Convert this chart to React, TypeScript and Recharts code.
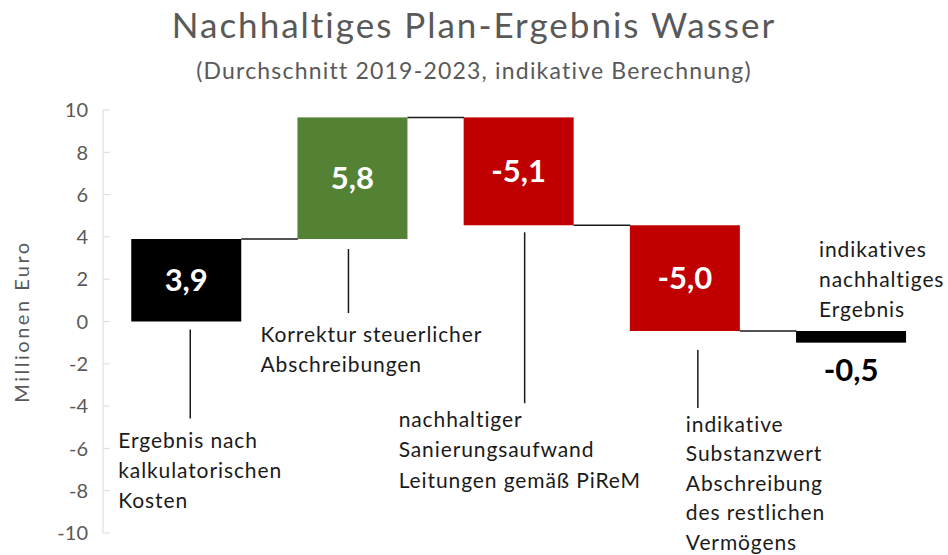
import { ComposedChart, Bar, XAxis, YAxis, LabelList, Label } from "recharts";

// Waterfall steps (Millionen Euro)
const categories = [
  "Ergebnis nach kalkulatorischen Kosten",
  "Korrektur steuerlicher Abschreibungen",
  "nachhaltiger Sanierungsaufwand",
  "indikative Substanzwert-Abschreibung",
  "indikatives nachhaltiges Ergebnis",
];
const barStart = [0, 3.9, 9.65, 4.55, -0.45];
const barEnd = [3.9, 9.65, 4.55, -0.45, -1.0];
const valueLabels = ["3,9", "5,8", "-5,1", "-5,0", "-0,5"];
const yTicks = [-10, -8, -6, -4, -2, 0, 2, 4, 6, 8, 10];

const annotations = [
  ["Ergebnis nach", "kalkulatorischen", "Kosten"],
  ["Korrektur steuerlicher", "Abschreibungen"],
  ["nachhaltiger", "Sanierungsaufwand", "Leitungen gemäß PiReM"],
  ["indikative", "Substanzwert", "Abschreibung", "des restlichen", "Vermögens"],
  ["indikatives", "nachhaltiges", "Ergebnis"],
];

const barColors = ["#000000", "#548235", "#C00000", "#C00000", "#000000"];

// where each note sits, relative to its bar (left edge / bottom or top edge)
const noteLayout = [
  { tx: -13, ty: 119, lx: 59, l1: 8, l2: 97, lh: 30, fromTop: false },
  { tx: -37, ty: 95, lx: 51, l1: 10, l2: 74, lh: 30, fromTop: false },
  { tx: -65, ty: 194, lx: 61, l1: 7, l2: 178, lh: 30.5, fromTop: false },
  { tx: 56, ty: 93, lx: 68, l1: 19, l2: 77, lh: 29.5, fromTop: false },
  { tx: 23, ty: -82, lx: 0, l1: 0, l2: 0, lh: 30, fromTop: true },
];

const GAP = 0.17;
const FONT = "Lato, 'Open Sans', sans-serif";

const data = categories.map((name, i) => ({
  name,
  range: [barStart[i], barEnd[i]],
  label: valueLabels[i],
}));

const box = (p: any) => {
  const vb = p.viewBox || p;
  const top = Math.min(vb.y, vb.y + vb.height);
  return { x: vb.x, w: vb.width, top, bottom: top + Math.abs(vb.height) };
};

const WaterfallBar = (props: any) => {
  const { x, y, width, height, index } = props;
  const top = Math.min(y, y + height);
  const gap = (width * 2 * GAP) / (1 - 2 * GAP);
  return (
    <g>
      <rect x={x} y={top} width={width} height={Math.abs(height)} fill={barColors[index]} />
      {index < categories.length - 1 && (
        <line x1={x + width} x2={x + width + gap} y1={y} y2={y} stroke="#1a1a1a" strokeWidth={1.5} />
      )}
    </g>
  );
};

const ValueLabel = (props: any) => {
  const { index, value } = props;
  const b = box(props);
  const last = index === categories.length - 1;
  return (
    <text
      x={b.x + b.w / 2}
      y={last ? b.bottom + 27 : (b.top + b.bottom) / 2}
      dy="0.36em"
      textAnchor="middle"
      fill={last ? "#000" : "#fff"}
      fontFamily={FONT}
      fontWeight={700}
      fontSize={31}
    >
      {value}
    </text>
  );
};

const NoteLabel = (props: any) => {
  const { index } = props;
  const b = box(props);
  const l = noteLayout[index];
  const base = l.fromTop ? b.top : b.bottom;
  return (
    <g>
      {!l.fromTop && (
        <line x1={b.x + l.lx} x2={b.x + l.lx} y1={base + l.l1} y2={base + l.l2} stroke="#1a1a1a" strokeWidth={1.5} />
      )}
      {annotations[index].map((t, k) => (
        <text
          key={k}
          x={b.x + l.tx}
          y={base + l.ty + k * l.lh}
          dy="0.36em"
          fill="#1a1a1a"
          fontFamily={FONT}
          fontSize={21}
          letterSpacing={0.9}
        >
          {t}
        </text>
      ))}
    </g>
  );
};

const AxisTick = (props: any) => {
  const { x, y, payload } = props;
  return (
    <g>
      <line x1={x + 15} x2={x + 22} y1={y} y2={y} stroke="#d9d9d9" strokeWidth={1} />
      <text x={x} y={y} dy="0.36em" textAnchor="end" fill="#595959" fontFamily={FONT} fontSize={20}>
        {payload.value}
      </text>
    </g>
  );
};

export default function App() {
  return (
    <div style={{ position: "absolute", left: 0, top: 0, width: 948, height: 555, background: "#fff", fontFamily: FONT }}>
      <div style={{ position: "absolute", top: 3, width: 948, textAlign: "center", color: "#595959", fontSize: 35, letterSpacing: 2, lineHeight: "42px" }}>
        Nachhaltiges Plan-Ergebnis Wasser
      </div>
      <div style={{ position: "absolute", top: 56, width: 948, textAlign: "center", color: "#595959", fontSize: 23, letterSpacing: 1.2, lineHeight: "28px" }}>
        (Durchschnitt 2019-2023, indikative Berechnung)
      </div>
      <ComposedChart
        width={948}
        height={555}
        data={data}
        margin={{ top: 110, right: 14, bottom: 22, left: 0 }}
        barCategoryGap={`${GAP * 100}%`}
      >
        <XAxis dataKey="name" hide />
        <YAxis
          width={103}
          domain={[-10, 10]}
          ticks={yTicks}
          interval={0}
          axisLine={{ stroke: "#d9d9d9" }}
          tickLine={false}
          tickSize={0}
          tickMargin={15}
          tick={<AxisTick />}
        >
          <Label
            content={(p: any) => {
              const vb = p.viewBox;
              const cy = vb.y + vb.height / 2;
              return (
                <text
                  x={vb.x + 22}
                  y={cy}
                  transform={`rotate(-90, ${vb.x + 22}, ${cy})`}
                  textAnchor="middle"
                  dy="0.36em"
                  fill="#595959"
                  fontFamily={FONT}
                  fontSize={20}
                  letterSpacing={2.5}
                >
                  Millionen Euro
                </text>
              );
            }}
          />
        </YAxis>
        <Bar dataKey="range" shape={<WaterfallBar />} isAnimationActive={false}>
          <LabelList dataKey="label" content={<ValueLabel />} />
          <LabelList dataKey="label" content={<NoteLabel />} />
        </Bar>
      </ComposedChart>
    </div>
  );
}
